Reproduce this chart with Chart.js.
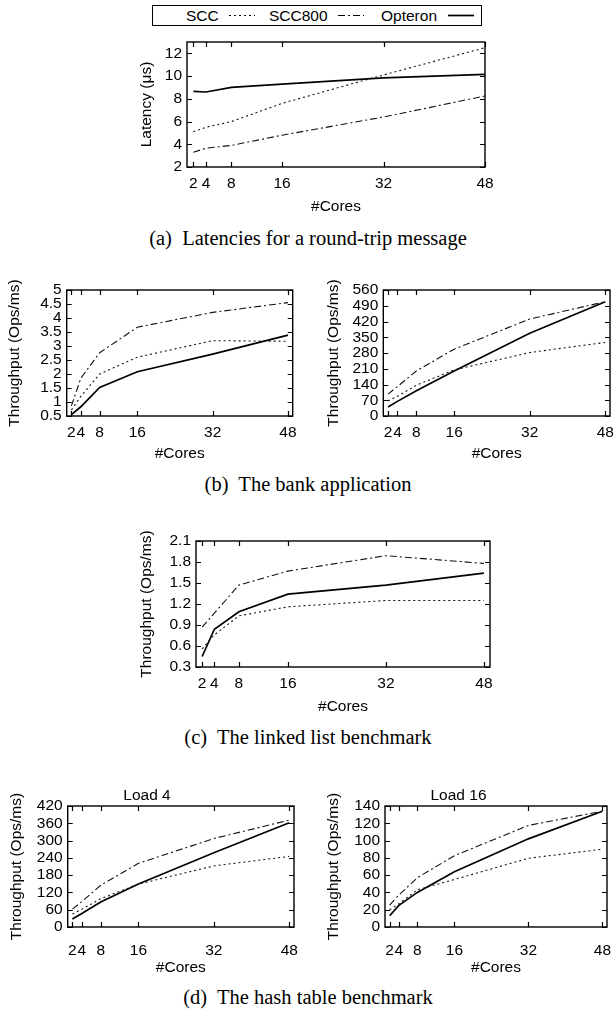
<!DOCTYPE html>
<html><head><meta charset="utf-8">
<script src="https://cdn.jsdelivr.net/npm/chart.js@4/dist/chart.umd.min.js"></script>
<style>
html,body{margin:0;padding:0;background:#fff;}
body{width:616px;height:1010px;position:relative;overflow:hidden;font-family:"Liberation Sans",Arial,Helvetica,sans-serif;}
.c{position:absolute;}
.cap{position:absolute;left:0;width:616px;text-align:center;font-family:"Liberation Serif","Times New Roman",serif;font-size:20.5px;line-height:24px;color:#000;white-space:pre;}
#legend{position:absolute;left:152px;top:5px;width:330px;height:21px;border:1.3px solid #000;box-sizing:border-box;}
#legend span{position:absolute;top:0;line-height:19px;font-size:15.5px;color:#000;}
#legend svg{position:absolute;top:0;}
</style></head><body>
<div id="legend"></div>
<div class="cap" style="top:226px">(a)  Latencies for a round-trip message</div>
<div class="cap" style="top:472px">(b)  The bank application</div>
<div class="cap" style="top:725px">(c)  The linked list benchmark</div>
<div class="cap" style="top:985px">(d)  The hash table benchmark</div>
<script>
// ---- data ----
const cores = [2, 4, 8, 16, 32, 48];
const xTicks = [2, 4, 8, 16, 32, 48];
const seriesNames = ['SCC', 'SCC800', 'Opteron'];

// (a) latency of a round-trip message (us)
const latSCC     = [5.1, 5.5, 6.0, 7.6, 10.1, 12.5];
const latSCC800  = [3.3, 3.65, 3.9, 4.8, 6.4, 8.25];
const latOpteron = [8.65, 8.6, 9.0, 9.3, 9.85, 10.15];
const latTicks   = [2, 4, 6, 8, 10, 12];

// (b) bank application, left
const bankSCC     = [0.72, 1.2, 2.0, 2.6, 3.19, 3.17];
const bankSCC800  = [0.86, 1.85, 2.76, 3.67, 4.2, 4.55];
const bankOpteron = [0.55, 0.83, 1.52, 2.08, 2.71, 3.39];
const bankTicks   = [0.5, 1, 1.5, 2, 2.5, 3, 3.5, 4, 4.5, 5];

// (b) bank application, right
const bank2SCC     = [67, 88, 137, 205, 282, 327];
const bank2SCC800  = [97, 131, 200, 297, 431, 508];
const bank2Opteron = [40, 65, 112, 200, 368, 508];
const bank2Ticks   = [0, 70, 140, 210, 280, 350, 420, 490, 560];

// (c) linked list
const listSCC     = [0.56, 0.76, 1.03, 1.16, 1.25, 1.25];
const listSCC800  = [0.87, 1.07, 1.47, 1.67, 1.89, 1.78];
const listOpteron = [0.45, 0.84, 1.09, 1.34, 1.47, 1.64];
const listTicks   = [0.3, 0.6, 0.9, 1.2, 1.5, 1.8, 2.1];

// (d) hash table, load 4
const hash4SCC     = [45, 62, 98, 149, 212, 245];
const hash4SCC800  = [62, 88, 145, 221, 307, 371];
const hash4Opteron = [28, 47, 87, 149, 258, 362];
const hash4Ticks   = [0, 60, 120, 180, 240, 300, 360, 420];

// (d) hash table, load 16
const hash16SCC     = [20, 27, 43, 55, 79.5, 90];
const hash16SCC800  = [25.4, 37, 57, 82.5, 117.5, 134];
const hash16Opteron = [13, 25, 40, 64, 102, 134];
const hash16Ticks   = [0, 20, 40, 60, 80, 100, 120, 140];

// ---- style ----
const FONT = 15.5;
const LH = FONT * 1.2;
const FAMILY = '"Liberation Sans", Arial, Helvetica, sans-serif';
const F = {family: FAMILY, size: FONT, weight: 'normal', lineHeight: 1.2};
Chart.defaults.font.family = FAMILY;
Chart.defaults.font.size = FONT;
Chart.defaults.color = '#000';

const STYLES = [
  {borderDash: [2, 3], borderWidth: 1.1, borderColor: '#111', dash: '2,3', w: 1.1},
  {borderDash: [7, 3, 2, 3], borderWidth: 1.1, borderColor: '#111', dash: '7,3,2,3', w: 1.1},
  {borderDash: [], borderWidth: 1.7, borderColor: '#000', dash: '', w: 1.7}
];

// legend (built from series names)
(function(){
  const lg = document.getElementById('legend');
  const textX = [33, 116, 228];
  const lineX = [76, 185, 295];
  seriesNames.forEach((n, i) => {
    const s = document.createElement('span');
    s.textContent = n; s.style.left = textX[i] + 'px';
    lg.appendChild(s);
    const ns = 'http://www.w3.org/2000/svg';
    const svg = document.createElementNS(ns, 'svg');
    svg.setAttribute('width', 26); svg.setAttribute('height', 19);
    svg.style.left = lineX[i] + 'px';
    const l = document.createElementNS(ns, 'line');
    l.setAttribute('x1', 0); l.setAttribute('x2', 26);
    l.setAttribute('y1', 9.5); l.setAttribute('y2', 9.5);
    l.setAttribute('stroke', '#000'); l.setAttribute('stroke-width', STYLES[i].w);
    if (STYLES[i].dash) l.setAttribute('stroke-dasharray', STYLES[i].dash);
    svg.appendChild(l); lg.appendChild(svg);
  });
})();

// frame + inner mirrored tick marks (gnuplot style)
const frame = {
  id: 'frame',
  afterDatasetsDraw(chart) {
    const {ctx, chartArea: a, scales: {x, y}} = chart;
    const L = 5;
    ctx.save();
    ctx.strokeStyle = '#000';
    ctx.lineWidth = 1.2;
    ctx.setLineDash([]);
    ctx.beginPath();
    x.ticks.forEach(t => {
      const px = Math.round(x.getPixelForValue(t.value)) + 0.5;
      ctx.moveTo(px, a.bottom); ctx.lineTo(px, a.bottom - L);
      ctx.moveTo(px, a.top); ctx.lineTo(px, a.top + L);
    });
    y.ticks.forEach(t => {
      const py = Math.round(y.getPixelForValue(t.value)) + 0.5;
      ctx.moveTo(a.left, py); ctx.lineTo(a.left + L, py);
      ctx.moveTo(a.right, py); ctx.lineTo(a.right - L, py);
    });
    ctx.stroke();
    ctx.lineWidth = 1.4;
    ctx.strokeRect(a.left, a.top, a.right - a.left, a.bottom - a.top);
    ctx.restore();
  }
};

function makeChart(spec) {
  const div = document.createElement('div');
  div.className = 'c';
  div.style.left = spec.cv.l + 'px';
  div.style.top = spec.cv.t + 'px';
  const cvs = document.createElement('canvas');
  cvs.width = spec.cv.w; cvs.height = spec.cv.h;
  cvs.style.width = spec.cv.w + 'px'; cvs.style.height = spec.cv.h + 'px';
  div.appendChild(cvs);
  document.body.appendChild(div);

  const cvB = spec.cv.t + spec.cv.h;
  const tb = spec.title ? (spec.plot.t - spec.titleY - LH / 2) : 0;
  const titleH = spec.title ? LH + tb : 0;
  const padTop = spec.plot.t - spec.cv.t - titleH;
  const padRight = spec.cv.l + spec.cv.w - spec.plot.r;
  const yW = spec.plot.l - spec.cv.l;
  const xH = cvB - spec.plot.b;

  new Chart(cvs, {
    type: 'line',
    data: {
      datasets: seriesNames.map((n, i) => ({
        label: n,
        data: cores.map((c, j) => ({x: c, y: spec.series[i][j]})),
        borderColor: STYLES[i].borderColor,
        borderWidth: STYLES[i].borderWidth,
        borderDash: STYLES[i].borderDash,
        pointRadius: 0, tension: 0, fill: false
      }))
    },
    options: {
      responsive: false, animation: false, devicePixelRatio: 1,
      font: F,
      layout: {padding: {left: 0, top: padTop, right: padRight, bottom: 0}},
      plugins: {
        legend: {display: false}, tooltip: {enabled: false},
        title: spec.title ? {display: true, text: spec.title, color: '#000',
          font: F, padding: {top: 0, bottom: tb}} : {display: false}
      },
      scales: {
        x: {
          type: 'linear', min: spec.xMin, max: spec.xMax,
          grid: {display: false, drawTicks: false}, border: {display: false},
          afterBuildTicks: s => { s.ticks = xTicks.map(v => ({value: v})); },
          afterFit: s => { s.height = xH; s.paddingLeft = 0; s.paddingRight = 0; },
          ticks: {autoSkip: false, maxRotation: 0, minRotation: 0, font: F, color: '#000',
            padding: spec.xLabelOff - LH / 2, callback: v => String(v)},
          title: {display: true, text: '#Cores', font: F, color: '#000',
            padding: {top: 0, bottom: cvB - spec.xTitleY - LH / 2}}
        },
        y: {
          type: 'linear', min: spec.yMin, max: spec.yMax,
          grid: {display: false, drawTicks: false}, border: {display: false},
          afterBuildTicks: s => { s.ticks = spec.yTicks.map(v => ({value: v})); },
          afterFit: s => { s.width = yW; s.paddingTop = 0; s.paddingBottom = 0; },
          ticks: {autoSkip: false, padding: 5, font: F, color: '#000', callback: v => String(v)},
          title: {display: true, text: spec.yTitle, font: F, color: '#000',
            padding: {top: spec.yTitleX - spec.cv.l - LH / 2, bottom: 0}}
        }
      }
    },
    plugins: [frame]
  });
}

const TP = 'Throughput (Ops/ms)';
makeChart({cv: {l: 110, t: 25, w: 395, h: 195}, plot: {l: 187, t: 42, r: 485, b: 167},
  xMin: 1, xMax: 48, yMin: 2, yMax: 13, yTicks: latTicks, yTitle: 'Latency (μs)',
  yTitleX: 146.7, xLabelOff: 17, xTitleY: 207,
  series: [latSCC, latSCC800, latOpteron]});
makeChart({cv: {l: 0, t: 270, w: 310, h: 190}, plot: {l: 66.7, t: 290, r: 292.7, b: 416},
  xMin: 1, xMax: 49, yMin: 0.5, yMax: 5, yTicks: bankTicks, yTitle: TP,
  yTitleX: 15, xLabelOff: 17, xTitleY: 454,
  series: [bankSCC, bankSCC800, bankOpteron]});
makeChart({cv: {l: 310, t: 270, w: 306, h: 190}, plot: {l: 383.3, t: 290, r: 610, b: 416},
  xMin: 1, xMax: 49, yMin: 0, yMax: 560, yTicks: bank2Ticks, yTitle: TP,
  yTitleX: 333.5, xLabelOff: 17, xTitleY: 454,
  series: [bank2SCC, bank2SCC800, bank2Opteron]});
makeChart({cv: {l: 110, t: 520, w: 395, h: 195}, plot: {l: 196, t: 541, r: 490, b: 667},
  xMin: 1, xMax: 49, yMin: 0.3, yMax: 2.1, yTicks: listTicks, yTitle: TP,
  yTitleX: 146.7, xLabelOff: 17, xTitleY: 706.7,
  series: [listSCC, listSCC800, listOpteron]});
makeChart({cv: {l: 0, t: 775, w: 310, h: 205}, plot: {l: 67.7, t: 806, r: 294, b: 927},
  xMin: 1, xMax: 49, yMin: 0, yMax: 420, yTicks: hash4Ticks, yTitle: TP,
  yTitleX: 17, xLabelOff: 24, xTitleY: 968, title: 'Load 4', titleY: 796,
  series: [hash4SCC, hash4SCC800, hash4Opteron]});
makeChart({cv: {l: 310, t: 775, w: 306, h: 205}, plot: {l: 385, t: 806, r: 607, b: 927},
  xMin: 1, xMax: 49, yMin: 0, yMax: 140, yTicks: hash16Ticks, yTitle: TP,
  yTitleX: 333.5, xLabelOff: 24, xTitleY: 968, title: 'Load 16', titleY: 796,
  series: [hash16SCC, hash16SCC800, hash16Opteron]});
</script>
</body></html>
